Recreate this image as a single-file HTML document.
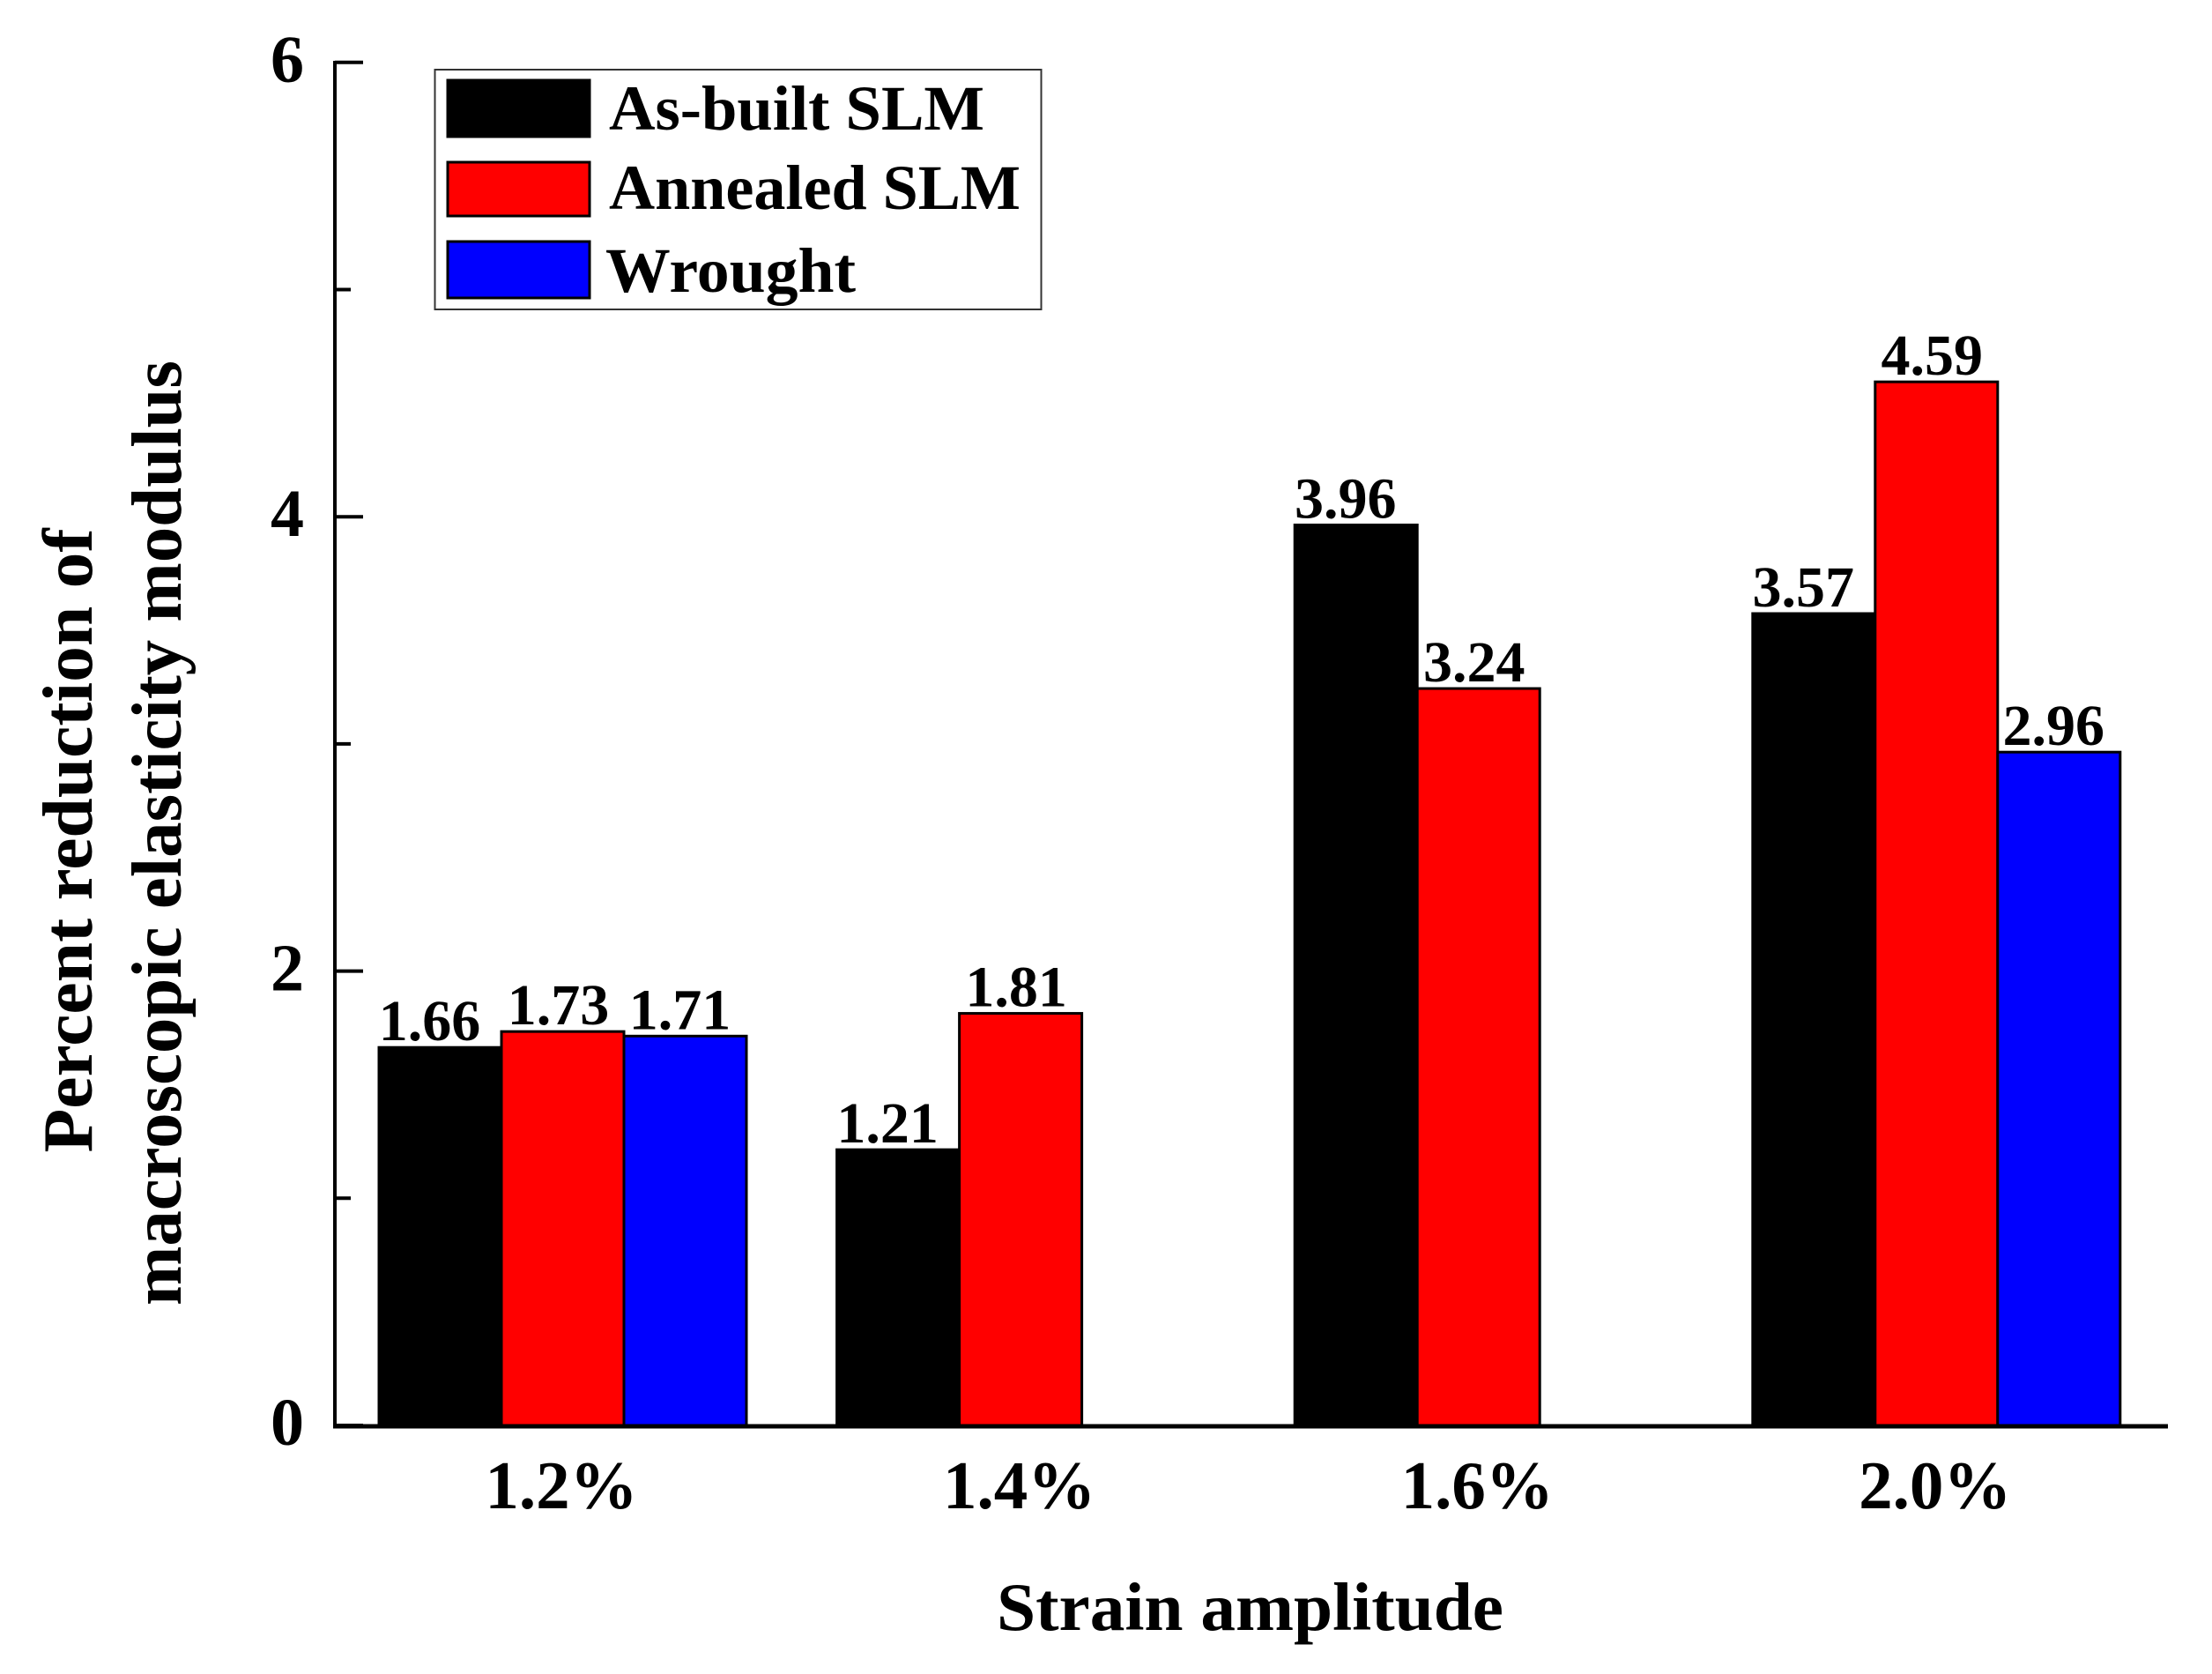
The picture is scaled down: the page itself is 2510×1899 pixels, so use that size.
<!DOCTYPE html>
<html lang="en">
<head>
<meta charset="utf-8">
<title>Percent reduction of macroscopic elasticity modulus</title>
<style>
html,body{margin:0;padding:0;background:#fff;}
svg{display:block;}
text{font-family:"Liberation Serif",serif;font-weight:bold;fill:#000;}
</style>
</head>
<body>
<svg id="chart" xmlns="http://www.w3.org/2000/svg" width="2510" height="1899" viewBox="0 0 2510 1899">
  <rect x="0" y="0" width="2510" height="1899" fill="#fff"/>
  <g id="bars"></g>
  <g id="value-labels"></g>
  <g id="axes"></g>
  <text x="1131" y="1849" font-size="77" textLength="575" lengthAdjust="spacingAndGlyphs">Strain amplitude</text>
  <text transform="translate(104,1307.5) rotate(-90)" font-size="80" textLength="708" lengthAdjust="spacingAndGlyphs">Percent reduction of</text>
  <text transform="translate(205,1481) rotate(-90)" font-size="80" textLength="1072" lengthAdjust="spacingAndGlyphs">macroscopic elasticity modulus</text>
  <g>
    <rect x="493.5" y="79" width="688" height="272" fill="#fff" stroke="#333" stroke-width="2"/>
    <rect x="508" y="91" width="161" height="64" fill="#000" stroke="#000" stroke-width="3"/>
    <text x="691" y="147" font-size="72" textLength="426" lengthAdjust="spacingAndGlyphs">As-built SLM</text>
    <rect x="508" y="184" width="161" height="61" fill="#f00" stroke="#000" stroke-width="3"/>
    <text x="691" y="237" font-size="72" textLength="467" lengthAdjust="spacingAndGlyphs">Annealed SLM</text>
    <rect x="508" y="274" width="161" height="64" fill="#00f" stroke="#000" stroke-width="3"/>
    <text x="687" y="331" font-size="72" textLength="284" lengthAdjust="spacingAndGlyphs">Wrought</text>
  </g>
</svg>
<script>
var categories = ["1.2%", "1.4%", "1.6%", "2.0%"];
var seriesNames = ["As-built SLM", "Annealed SLM", "Wrought"];
var asBuiltValues = [1.66, 1.21, 3.96, 3.57];
var annealedValues = [1.73, 1.81, 3.24, 4.59];
var wroughtValues = [1.71, null, null, 2.96];
var majorTicks = [0, 2, 4, 6];
var minorTicks = [1, 3, 5];

var NS = "http://www.w3.org/2000/svg";
var allSeries = [asBuiltValues, annealedValues, wroughtValues];
var seriesColors = ["#000", "#f00", "#00f"];
var seriesSlugs = ["as-built-slm", "annealed-slm", "wrought"];
var labelShift = [-12, -5, -6];

function yScale(v) { return 1617 - 257.7 * v; }
function groupCenter(i) { return 638.5 + 519.6 * i; }
var slotWidth = 139;
function barLeft(i, s) { return groupCenter(i) - 1.5 * slotWidth + s * slotWidth; }

function make(tag, attrs, parent) {
  var el = document.createElementNS(NS, tag);
  for (var k in attrs) { el.setAttribute(k, attrs[k]); }
  parent.appendChild(el);
  return el;
}

var barsGroup = document.getElementById("bars");
var labelsGroup = document.getElementById("value-labels");
var axesGroup = document.getElementById("axes");

allSeries.forEach(function (values, s) {
  values.forEach(function (v, i) {
    if (v === null) { return; }
    var top = yScale(v) - 1;
    var bar = make("rect", {x: barLeft(i, s), y: top, width: slotWidth, height: yScale(0) - top, fill: seriesColors[s], stroke: "#000", "stroke-width": 3}, barsGroup);
    
    
    var label = make("text", {x: barLeft(i, s) + slotWidth / 2 + labelShift[s], y: top - 8, "font-size": 66, "text-anchor": "middle"}, labelsGroup);
    label.textContent = v.toFixed(2);
    
    
  });
});

var yAxisLine = make("line", {x1: 380, y1: 69, x2: 380, y2: 1620, stroke: "#000", "stroke-width": 4}, axesGroup);



var xAxisLine = make("line", {x1: 378, y1: yScale(0) + 1, x2: 2460, y2: yScale(0) + 1, stroke: "#000", "stroke-width": 5}, axesGroup);



majorTicks.forEach(function (t) {
  var y = yScale(t);
  var tick = make("line", {x1: 380, y1: y, x2: 412, y2: y, stroke: "#000", "stroke-width": 4}, axesGroup);
  
  
  var label = make("text", {x: 326, y: y + 22, "font-size": 76, "text-anchor": "middle"}, axesGroup);
  label.textContent = String(t);
  
  
});

minorTicks.forEach(function (t) {
  var y = yScale(t);
  var tick = make("line", {x1: 380, y1: y, x2: 398, y2: y, stroke: "#000", "stroke-width": 4}, axesGroup);
  
  
});

categories.forEach(function (c, i) {
  var label = make("text", {x: groupCenter(i) - 1.5, y: 1711, "font-size": 77, "text-anchor": "middle"}, axesGroup);
  label.textContent = c;
  
  
});
</script>
</body>
</html>
